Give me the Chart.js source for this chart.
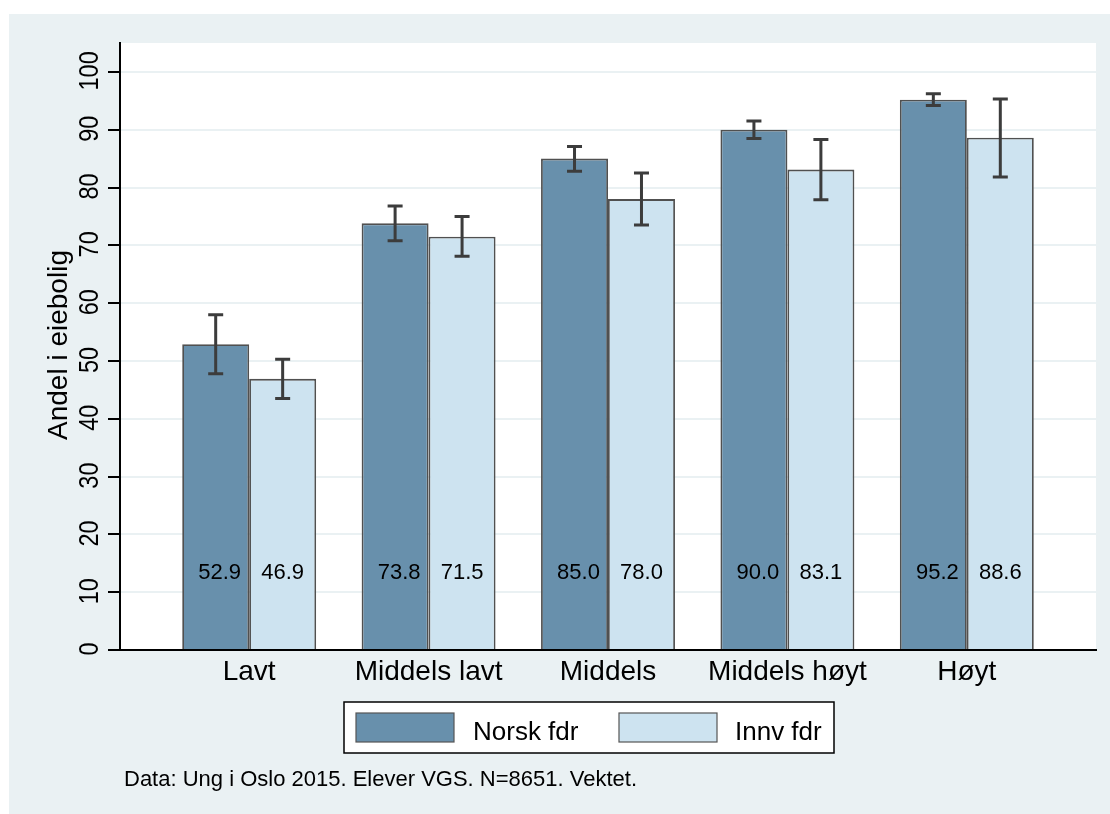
<!DOCTYPE html>
<html>
<head>
<meta charset="utf-8">
<script src="https://cdn.jsdelivr.net/npm/chart.js@4.4.1/dist/chart.umd.min.js"></script>
<style>
  html, body { margin: 0; padding: 0; background: #fff; }
</style>
</head>
<body>
<canvas id="myChart" width="1110" height="814"></canvas>
<script>
var categories = ['Lavt', 'Middels lavt', 'Middels', 'Middels høyt', 'Høyt']
var seriesNames = ['Norsk fdr', 'Innv fdr']
var norsk = [52.9, 73.8, 85.0, 90.0, 95.2]
var innv = [46.9, 71.5, 78.0, 83.1, 88.6]
// konfidensintervall
var norskLow = [47.8, 70.8, 82.8, 88.5, 94.2]
var norskHigh = [58.0, 76.8, 87.1, 91.5, 96.2]
var innvLow = [43.5, 68.1, 73.5, 77.9, 81.8]
var innvHigh = [50.3, 75.0, 82.5, 88.3, 95.3]
var yTicks = [0, 10, 20, 30, 40, 50, 60, 70, 80, 90, 100]
var yTitle = 'Andel i eiebolig'
var note = 'Data: Ung i Oslo 2015. Elever VGS. N=8651. Vektet.'

var FONT = '"Liberation Sans", Arial, sans-serif'
var darkCol = '#6890AC'
var lightCol = '#CDE3F0'
var bgCol = '#EAF1F3'

function toPoints(arr) {
    return arr.map(function(v, i){ return {x: i, y: v} })
}

var bgPlugin = {
    id: 'bg',
    beforeDraw: function(chart) {
        var c = chart.ctx, a = chart.chartArea
        c.save()
        c.fillStyle = '#ffffff'
        c.fillRect(0, 0, chart.width, chart.height)
        c.fillStyle = bgCol
        c.fillRect(9, 14, chart.width - 9, chart.height - 14)
        c.fillStyle = '#ffffff'
        c.fillRect(a.left, a.top, a.right - a.left, a.bottom - a.top)
        c.restore()
    }
}

var extrasPlugin = {
    id: 'extras',
    afterDatasetsDraw: function(chart) {
        var c = chart.ctx
        var y = chart.scales.y
        var lows = [norskLow, innvLow]
        var highs = [norskHigh, innvHigh]
        c.save()
        // error bars
        c.strokeStyle = '#3c3c3c'
        c.lineWidth = 3
        chart.data.datasets.forEach(function(ds, di){
            var meta = chart.getDatasetMeta(di)
            meta.data.forEach(function(bar, i){
                var yl = y.getPixelForValue(lows[di][i])
                var yh = y.getPixelForValue(highs[di][i])
                c.beginPath()
                c.moveTo(bar.x, yl); c.lineTo(bar.x, yh)
                c.moveTo(bar.x - 7.5, yl); c.lineTo(bar.x + 7.5, yl)
                c.moveTo(bar.x - 7.5, yh); c.lineTo(bar.x + 7.5, yh)
                c.stroke()
            })
        })
        // value labels inside bars
        c.fillStyle = '#000'
        c.font = '22px ' + FONT
        c.textAlign = 'center'
        c.textBaseline = 'middle'
        chart.data.datasets.forEach(function(ds, di){
            var meta = chart.getDatasetMeta(di)
            meta.data.forEach(function(bar, i){
                var v = ds.data[i].y
                c.fillText(v.toFixed(1), bar.x + (di == 0 ? 4 : 0), y.getPixelForValue(13.3))
            })
        })
        c.restore()
    },
    afterDraw: function(chart) {
        var c = chart.ctx
        var y = chart.scales.y
        c.save()
        c.fillStyle = '#000'
        // y tick labels, rotated
        c.font = '28px ' + FONT
        c.textAlign = 'center'
        c.textBaseline = 'alphabetic'
        yTicks.forEach(function(t){
            c.save()
            c.translate(98, y.getPixelForValue(t) - 1)
            c.rotate(-Math.PI / 2)
            c.scale(0.84, 1)
            c.fillText(String(t), 0, 0)
            c.restore()
        })
        // y title
        c.save()
        c.translate(67, 345)
        c.rotate(-Math.PI / 2)
        c.fillText(yTitle, 0, 0)
        c.restore()

        // legend
        c.fillStyle = '#fff'
        c.fillRect(344, 702, 490, 51)
        c.strokeStyle = '#000'
        c.lineWidth = 1.5
        c.strokeRect(344, 702, 490, 51)
        var boxX = [356, 619]
        var textX = [473, 735]
        c.font = '26px ' + FONT
        c.textAlign = 'left'
        chart.data.datasets.forEach(function(ds, di){
            c.fillStyle = ds.backgroundColor
            c.fillRect(boxX[di], 713, 98, 29)
            c.strokeStyle = '#555'
            c.lineWidth = 1.2
            c.strokeRect(boxX[di], 713, 98, 29)
            c.fillStyle = '#000'
            c.fillText(ds.label, textX[di], 740)
        })

        // note
        c.font = '22px ' + FONT
        c.fillText(note, 124, 786)
        c.restore()
    }
}

var ctx = document.getElementById('myChart').getContext('2d')

var chart = new Chart(ctx, {
    type: 'bar',
    data: {
        datasets: [
            {
                label: seriesNames[0],
                data: toPoints(norsk),
                backgroundColor: darkCol,
                borderColor: '#505050',
                borderWidth: 1.8
            },
            {
                label: seriesNames[1],
                data: toPoints(innv),
                backgroundColor: lightCol,
                borderColor: '#505050',
                borderWidth: 1.8
            }
        ]
    },
    options: {
        responsive: false,
        animation: false,
        devicePixelRatio: 1,
        categoryPercentage: 0.7465,
        barPercentage: 1,
        layout: { padding: { top: 43, right: 14, left: 0, bottom: 0 } },
        plugins: {
            legend: { display: false },
            tooltip: { enabled: false }
        },
        scales: {
            x: {
                type: 'linear',
                min: -0.72,
                max: 4.72,
                offset: false,
                afterBuildTicks: function(s) {
                    s.ticks = categories.map(function(c, i){ return {value: i} })
                },
                afterFit: function(s) { s.height = 164 },
                grid: { display: false, drawTicks: false, offset: false },
                border: { display: true, color: '#000', width: 2 },
                ticks: {
                    color: '#000',
                    padding: 5,
                    maxRotation: 0,
                    autoSkip: false,
                    font: { family: FONT, size: 28 },
                    callback: function(v) { return categories[v] }
                }
            },
            y: {
                min: 0,
                max: 105,
                afterBuildTicks: function(s) {
                    s.ticks = yTicks.map(function(v){ return {value: v} })
                },
                afterFit: function(s) { s.width = 120 },
                grid: {
                    color: bgCol,
                    lineWidth: 2,
                    drawTicks: true,
                    tickLength: 12,
                    tickColor: '#000',
                    tickWidth: 2
                },
                border: { display: true, color: '#000', width: 2 },
                ticks: { display: false }
            }
        }
    },
    plugins: [bgPlugin, extrasPlugin]
})
</script>
</body>
</html>
